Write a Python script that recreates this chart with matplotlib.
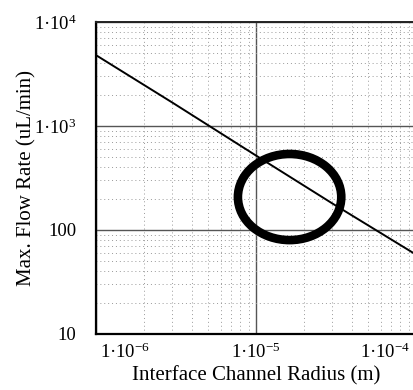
import matplotlib
matplotlib.use("Agg")
import matplotlib.pyplot as plt
from matplotlib.patches import Ellipse
from matplotlib.ticker import FixedLocator, LogLocator, NullFormatter
from matplotlib.transforms import ScaledTranslation

plt.rcParams['font.family'] = ['Liberation Serif', 'DejaVu Serif']
plt.rcParams['mathtext.fontset'] = 'custom'
plt.rcParams['mathtext.rm'] = 'Liberation Serif'
plt.rcParams['mathtext.it'] = 'Liberation Serif:italic'

# data
radius = [1e-6, 3e-6, 1e-5, 3e-5, 1e-4]          # m
flow = [4800, 1680, 520, 180, 58]                # uL/min

x_ticks = [1e-6, 1e-5, 1e-4]
x_ticklabels = [r'1·10$^{-6}$', r'1·10$^{-5}$', r'1·10$^{-4}$']
y_ticks = [10, 100, 1000, 10000]
y_ticklabels = ['10', '100', r'1·10$^{3}$', r'1·10$^{4}$']

x_label = 'Interface Channel Radius (m)'
y_label = 'Max. Flow Rate (uL/min)'

fig = plt.figure(figsize=(4.13, 3.90), dpi=100)
ax = fig.add_axes([96/413, 56/390, 320/413, 312/390])

ax.plot(radius, flow, color='black', lw=1.4)
ax.set_xscale('log')
ax.set_yscale('log')
ax.set_xlim(1e-6, 1e-4)
ax.set_ylim(10, 1e4)

ax.xaxis.set_major_locator(FixedLocator(x_ticks))
ax.yaxis.set_major_locator(FixedLocator(y_ticks))
ax.set_xticklabels(x_ticklabels)
ax.set_yticklabels(y_ticklabels)
ax.xaxis.set_minor_locator(LogLocator(base=10, subs=range(2, 10)))
ax.yaxis.set_minor_locator(LogLocator(base=10, subs=range(2, 10)))
ax.xaxis.set_minor_formatter(NullFormatter())
ax.yaxis.set_minor_formatter(NullFormatter())

ax.tick_params(which='both', length=0)
ax.tick_params(axis='y', pad=14, labelsize=13.5)
ax.tick_params(axis='x', pad=6, labelsize=13.5)
xl = ax.get_xticklabels()
xl[0].set_ha('left')
xl[0].set_transform(xl[0].get_transform() + ScaledTranslation(0.04, 0, fig.dpi_scale_trans))
xl[-1].set_ha('right')
xl[-1].set_transform(xl[-1].get_transform() + ScaledTranslation(-0.06, 0, fig.dpi_scale_trans))

ax.grid(which='major', color='#555555', lw=1.0, ls='-')
ax.grid(which='minor', color='#999999', lw=0.7, ls=(0, (1, 3)))
ax.set_axisbelow(True)

for s in ['left', 'bottom']:
    ax.spines[s].set_linewidth(1.6)
    ax.spines[s].set_color('black')
ax.spines['top'].set_linewidth(1.4)
ax.spines['top'].set_color('#222222')
ax.spines['right'].set_visible(False)

ax.set_xlabel(x_label, fontsize=15, labelpad=3)
ax.set_ylabel(y_label, fontsize=15, labelpad=-2)

ell = Ellipse((0.605, 0.439), 0.323, 0.276, transform=ax.transAxes,
              fill=False, edgecolor='black', lw=6.2, clip_on=False)
ax.add_patch(ell)

fig.savefig('out.png', dpi=100)
